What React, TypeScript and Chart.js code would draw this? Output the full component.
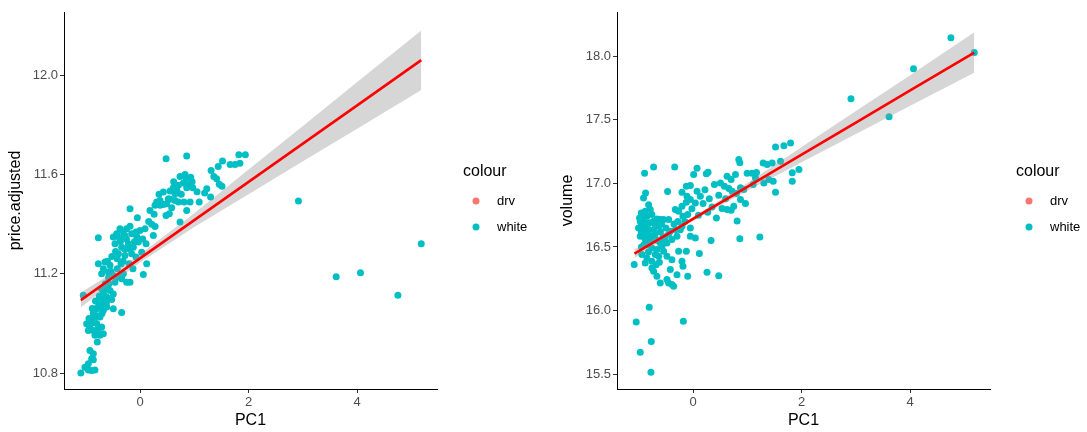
import React, { useEffect, useRef } from "react";
import { Chart, registerables } from "chart.js";

Chart.register(...registerables);

const FONT = "'Liberation Sans', Arial, sans-serif";
const TEAL = "#00BFC4";
const SALMON = "#F8766D";
const BAND = "rgba(153,153,153,0.4)";
const FIT = "#FF0000";
const POINT_R = 3.5;

const legendTitle = "colour";
const legendLabels = ["drv", "white"];
const legendColors = [SALMON, TEAL];

const xTitle = "PC1";
const xTicks = [0, 2, 4];
const xRange = [-1.4, 5.47];

// ---- left panel: PC1 vs price.adjusted ----
const priceTitle = "price.adjusted";
const priceTicks = [10.8, 11.2, 11.6, 12.0];
const priceRange = [10.736, 12.254];
const pricePoints: [number, number][] = [
  [0.48, 11.663], [0.86, 11.674], [1.82, 11.679], [1.94, 11.679], [1.52, 11.654], [1.44, 11.632],
  [1.66, 11.64], [1.75, 11.64], [1.84, 11.645], [1.31, 11.616], [1.36, 11.592], [1.41, 11.583],
  [1.51, 11.552], [1.46, 11.56], [1.23, 11.542], [1.19, 11.525], [1.3, 11.509], [1.09, 11.489],
  [0.737, 11.592], [0.848, 11.587], [0.934, 11.589], [0.909, 11.565], [0.86, 11.546], [0.971, 11.546],
  [0.799, 11.565], [0.707, 11.556], [0.614, 11.546], [0.553, 11.533], [0.645, 11.522], [0.522, 11.502],
  [0.645, 11.495], [0.43, 11.529], [0.369, 11.495], [0.307, 11.489], [0.43, 11.479], [0.49, 11.482],
  [0.584, 11.466], [0.707, 11.489], [0.811, 11.489], [0.922, 11.489], [0.86, 11.455], [0.737, 11.408],
  [0.479, 11.435], [0.54, 11.442], [0.184, 11.455], [0.215, 11.399], [0.277, 11.39], [0.246, 11.354],
  [0.319, 11.486], [0.369, 11.476], [0.276, 11.476],
  [0.092, 11.381], [0.111, 11.321], [0.123, 11.24], [0.061, 11.197], [-0.184, 11.462], [-0.049, 11.426],
  [-0.369, 11.381], [-0.246, 11.381], [-0.184, 11.391], [-0.307, 11.368], [-0.43, 11.361], [-0.492, 11.348],
  [-0.381, 11.345], [-0.277, 11.354], [-0.154, 11.361], [-0.074, 11.368], [0.0, 11.374],
  [-0.461, 11.321], [-0.338, 11.307], [-0.215, 11.321], [-0.123, 11.307], [-0.031, 11.328],
  [-0.399, 11.281], [-0.277, 11.274], [-0.154, 11.281], [-0.074, 11.267], [0.031, 11.287],
  [-0.768, 11.345], [-0.768, 11.24], [-0.645, 11.247], [-0.553, 11.234], [-0.676, 11.22],
  [-0.707, 11.2], [-0.584, 11.207], [-0.492, 11.193], [-0.399, 11.187], [-0.307, 11.2], [-0.246, 11.166],
  [-0.184, 11.166], [-0.338, 11.18], [-0.461, 11.166], [-1.045, 11.113],
  [-0.676, 11.126], [-0.614, 11.106], [-0.553, 11.133], [-0.492, 11.119], [-0.645, 11.093], [-0.522, 11.096],
  [-0.338, 11.044], [-0.492, 11.059],
  [-0.737, 11.079], [-0.799, 11.059], [-0.676, 11.052], [-0.86, 11.039], [-0.614, 11.066], [-0.891, 11.012],
  [-0.737, 11.026], [-0.83, 11.026], [-0.952, 10.972], [-0.86, 10.972], [-0.768, 10.979], [-0.707, 10.986],
  [-0.983, 10.999], [-0.83, 10.952], [-0.737, 10.952], [-0.676, 10.958], [-0.787, 10.925],
  [-0.922, 10.891], [-0.86, 10.878], [-0.891, 10.858], [-0.952, 10.838], [-0.86, 10.854],
  [-1.014, 10.824], [-0.952, 10.813], [-0.891, 10.81], [-0.83, 10.813], [-1.09, 10.8],
  [-0.9, 11.0], [-0.85, 11.045], [-0.78, 11.065], [-0.72, 11.1], [-0.66, 11.11], [-0.6, 11.14],
  [-0.57, 11.16], [-0.8, 11.0], [-0.94, 11.02], [-0.7, 11.04], [-0.62, 11.08], [-0.75, 11.11],
  [-0.42, 11.22], [-0.35, 11.24], [-0.28, 11.3], [-0.2, 11.24], [-0.1, 11.33], [-0.45, 11.29],
  [-0.52, 11.27], [-0.6, 11.25],
  [-0.88, 11.06], [-0.82, 11.09], [-0.77, 11.03], [-0.69, 11.075], [-0.93, 10.985], [-0.81, 10.97],
  [-0.71, 11.14], [-0.64, 11.16], [-0.58, 11.185], [-0.54, 11.21], [-0.42, 11.26], [-0.36, 11.33],
  [-0.25, 11.34], [-0.19, 11.3], [-0.06, 11.35], [0.05, 11.34], [-0.31, 11.25], [-0.13, 11.22],
  [0.35, 11.52], [0.56, 11.5], [0.68, 11.535], [0.76, 11.52], [0.96, 11.57], [1.05, 11.53],
  [0.62, 11.57], [0.83, 11.6], [0.26, 11.44], [0.16, 11.41],
  [2.918, 11.493], [3.613, 11.188], [4.061, 11.204], [4.75, 11.113], [5.18, 11.321],
];
const priceFitX = [-1.09, -0.5, 0, 1, 2, 3, 4, 5.18];
const priceFitY = [11.094, 11.185, 11.262, 11.416, 11.57, 11.724, 11.878, 12.06];
const priceBandLo = [11.064, 11.165, 11.245, 11.388, 11.52, 11.653, 11.784, 11.94];
const priceBandHi = [11.124, 11.205, 11.279, 11.444, 11.62, 11.795, 11.972, 12.18];

// ---- right panel: PC1 vs volume ----
const volumeTitle = "volume";
const volumeTicks = [15.5, 16.0, 16.5, 17.0, 17.5, 18.0];
const volumeRange = [15.382, 18.349];
const volumePoints: [number, number][] = [
  [-1.083, 16.361], [-1.046, 15.909], [-0.972, 15.671], [-0.806, 16.025], [-0.769, 15.755], [-0.775, 15.513],
  [-0.178, 15.915], [-0.892, 17.08], [-0.726, 17.13], [-0.338, 17.13], [0.074, 17.119], [0.246, 17.077],
  [0.277, 17.088], [0.012, 17.07], [-0.468, 16.936], [-0.911, 16.886], [-0.874, 16.925], [-0.818, 16.833],
  [-0.954, 16.768], [-0.88, 16.781], [-0.788, 16.794], [-0.985, 16.728], [-0.849, 16.741], [-0.757, 16.755],
  [-0.942, 16.689], [-0.849, 16.689], [-0.726, 16.702], [-1.003, 16.65], [-0.911, 16.65], [-0.818, 16.636],
  [-0.726, 16.636], [-0.634, 16.663], [-0.603, 16.715], [-0.542, 16.715], [-0.449, 16.715],
  [-0.972, 16.584], [-0.88, 16.558], [-0.788, 16.584], [-0.695, 16.558], [-0.603, 16.531], [-0.849, 16.518],
  [-0.757, 16.492], [-0.665, 16.479], [-0.572, 16.505], [-0.48, 16.531], [-0.388, 16.558], [-0.295, 16.584],
  [-0.326, 16.636], [-0.418, 16.623], [-0.234, 16.636], [-0.203, 16.663],
  [-0.942, 16.44], [-0.849, 16.413], [-0.88, 16.374], [-0.757, 16.387], [-0.695, 16.44], [-0.634, 16.426],
  [-0.542, 16.466], [-0.48, 16.426], [-0.757, 16.335], [-0.726, 16.308], [-0.665, 16.269], [-0.603, 16.217],
  [-0.48, 16.243], [-0.449, 16.217], [-0.388, 16.204], [-0.357, 16.191], [-0.418, 16.322], [-0.295, 16.282],
  [-0.388, 16.4], [-0.203, 16.387], [-0.123, 16.466], [-0.265, 16.466], [-0.098, 16.269], [-0.185, 16.348],
  [0.117, 16.448], [-0.049, 16.584], [0.043, 16.571], [-0.049, 16.65],
  [-0.098, 16.755], [-0.185, 16.741], [-0.265, 16.781], [-0.326, 16.794], [-0.203, 16.82], [-0.123, 16.852],
  [0.043, 16.846], [-0.049, 16.873], [-0.203, 16.931], [-0.123, 16.978], [-0.049, 16.983], [-0.111, 16.899],
  [0.074, 16.938], [0.135, 16.899], [0.185, 16.841],
  [0.258, 16.3], [0.332, 16.55], [0.474, 16.274], [0.271, 16.773], [0.351, 16.815], [0.431, 16.728],
  [0.394, 16.991], [0.474, 16.907], [0.505, 17.004], [0.578, 16.978],
  [0.628, 17.057], [0.702, 17.031], [0.782, 17.07], [0.843, 17.188], [0.862, 17.162],
  [0.535, 16.802], [0.628, 16.794], [0.702, 16.789], [0.751, 16.82], [0.812, 16.705], [0.862, 16.565],
  [0.874, 16.965], [0.935, 16.952], [0.72, 16.938], [0.874, 16.873], [0.966, 16.841],
  [0.997, 17.08], [1.089, 17.08], [1.169, 17.085], [1.108, 16.991], [1.151, 17.043], [1.231, 16.579],
  [1.292, 17.161], [1.366, 17.148], [1.458, 17.161], [1.305, 17.004], [1.397, 17.031], [1.477, 17.017],
  [1.52, 16.931], [1.612, 17.174], [1.674, 17.297], [1.797, 17.318], [1.828, 17.083], [1.951, 17.109],
  [1.828, 17.017], [1.52, 17.286],
  [-0.92, 16.72], [-0.86, 16.6], [-0.8, 16.69], [-0.7, 16.6], [-0.65, 16.55], [-0.9, 16.52],
  [-0.6, 16.62], [-0.55, 16.58], [-0.5, 16.65], [-0.95, 16.62], [-0.82, 16.46], [-0.62, 16.38], [-0.7, 16.68],
  [-0.97, 16.7], [-0.9, 16.6], [-0.84, 16.65], [-0.78, 16.55], [-0.66, 16.72], [-0.58, 16.68],
  [-0.52, 16.56], [-0.45, 16.6], [-0.35, 16.68], [-0.28, 16.7], [-0.15, 16.7], [-0.02, 16.8],
  [0.1, 16.75], [0.22, 16.95], [0.3, 16.88], [0.6, 16.88], [0.66, 16.96], [0.8, 16.92],
  [-0.95, 16.5], [-0.68, 16.36],
  [2.909, 17.666], [3.611, 17.524], [4.061, 17.902], [4.75, 18.147], [5.18, 18.031],
];
const volumeFitX = [-1.078, -0.5, 0, 1, 2, 3, 4, 5.18];
const volumeFitY = [16.447, 16.593, 16.72, 16.973, 17.226, 17.479, 17.732, 18.03];
const volumeBandLo = [16.412, 16.573, 16.705, 16.943, 17.166, 17.389, 17.612, 17.87];
const volumeBandHi = [16.482, 16.613, 16.735, 17.003, 17.286, 17.569, 17.852, 18.19];

type PanelProps = {
  width: number;
  yAxisWidth: number;
  rightPad: number;
  yTitlePad: number;
  yTitle: string;
  yTicks: number[];
  yRange: number[];
  points: [number, number][];
  fitX: number[];
  fitY: number[];
  bandLo: number[];
  bandHi: number[];
};

const legendPlugin = {
  id: "ggLegend",
  afterDraw(chart: any) {
    const { ctx, chartArea } = chart;
    const x0 = chartArea.right + 26;
    const cy = (chartArea.top + chartArea.bottom) / 2;
    ctx.save();
    ctx.textBaseline = "middle";
    ctx.textAlign = "left";
    ctx.fillStyle = "#000000";
    ctx.font = `16px ${FONT}`;
    ctx.fillText(legendTitle, x0, cy - 28.5);
    ctx.font = `13px ${FONT}`;
    legendLabels.forEach((lab, i) => {
      const y = cy + 0.5 + i * 26;
      ctx.beginPath();
      ctx.fillStyle = legendColors[i];
      ctx.arc(x0 + 13, y, POINT_R, 0, Math.PI * 2);
      ctx.fill();
      ctx.fillStyle = "#000000";
      ctx.fillText(lab, x0 + 34, y);
    });
    ctx.restore();
  },
};

function Panel(p: PanelProps) {
  const ref = useRef<HTMLCanvasElement | null>(null);
  useEffect(() => {
    if (!ref.current) return;
    const toXY = (xs: number[], ys: number[]) => xs.map((x, i) => ({ x, y: ys[i] }));
    const chart = new Chart(ref.current, {
      type: "scatter",
      data: {
        datasets: [
          { label: legendLabels[0], data: [], backgroundColor: legendColors[0], pointRadius: POINT_R, borderWidth: 0, order: 5 } as any,
          {
            label: legendLabels[1],
            data: p.points.map(([x, y]) => ({ x, y })),
            backgroundColor: legendColors[1],
            borderColor: "rgba(0,0,0,0)",
            borderWidth: 0,
            pointRadius: POINT_R,
            order: 4,
          },
          {
            type: "line",
            label: "lo",
            data: toXY(p.fitX, p.bandLo),
            borderColor: "rgba(0,0,0,0)",
            borderWidth: 0,
            pointRadius: 0,
            fill: false,
            order: 3,
          } as any,
          {
            type: "line",
            label: "hi",
            data: toXY(p.fitX, p.bandHi),
            borderColor: "rgba(0,0,0,0)",
            borderWidth: 0,
            backgroundColor: BAND,
            pointRadius: 0,
            fill: "-1",
            order: 2,
          } as any,
          {
            type: "line",
            label: "fit",
            data: toXY(p.fitX, p.fitY),
            borderColor: FIT,
            borderWidth: 2.6,
            pointRadius: 0,
            fill: false,
            order: 1,
          } as any,
        ],
      },
      options: {
        responsive: false,
        animation: false,
        layout: { padding: { top: 12, right: p.rightPad, bottom: 0, left: 0 } },
        plugins: { legend: { display: false }, tooltip: { enabled: false } },
        scales: {
          x: {
            type: "linear",
            min: xRange[0],
            max: xRange[1],
            afterBuildTicks: (s: any) => {
              s.ticks = xTicks.map((v) => ({ value: v }));
            },
            afterFit: (s: any) => {
              s.height = 43;
            },
            grid: { display: true, drawOnChartArea: false, drawTicks: true, tickLength: 4, color: "#333333" },
            border: { display: true, color: "#000000", width: 1 },
            ticks: { autoSkip: false, maxRotation: 0, color: "#4D4D4D", font: { size: 13, family: FONT }, padding: 2, callback: (v: any) => String(v) },
            title: { display: true, text: xTitle, color: "#000000", font: { size: 16, family: FONT }, padding: { top: 0, bottom: 2 } },
          },
          y: {
            type: "linear",
            min: p.yRange[0],
            max: p.yRange[1],
            afterBuildTicks: (s: any) => {
              s.ticks = p.yTicks.map((v) => ({ value: v }));
            },
            afterFit: (s: any) => {
              s.width = p.yAxisWidth;
            },
            grid: { display: true, drawOnChartArea: false, drawTicks: true, tickLength: 4, color: "#333333" },
            border: { display: true, color: "#000000", width: 1 },
            ticks: { autoSkip: false, color: "#4D4D4D", font: { size: 13, family: FONT }, padding: 2, callback: (v: any) => Number(v).toFixed(1) },
            title: { display: true, text: p.yTitle, color: "#000000", font: { size: 16, family: FONT }, padding: { top: p.yTitlePad, bottom: 0 } },
          },
        },
      },
      plugins: [legendPlugin],
    } as any);
    return () => chart.destroy();
  }, []);
  return <canvas ref={ref} width={p.width} height={432} style={{ display: "block", width: p.width, height: 432 }} />;
}

export default function App() {
  return (
    <div style={{ position: "absolute", left: 0, top: 0, width: 1087, height: 432, background: "#ffffff", display: "flex" }}>
      <Panel
        width={543}
        yAxisWidth={64}
        rightPad={106}
        yTitlePad={5.5}
        yTitle={priceTitle}
        yTicks={priceTicks}
        yRange={priceRange}
        points={pricePoints}
        fitX={priceFitX}
        fitY={priceFitY}
        bandLo={priceBandLo}
        bandHi={priceBandHi}
      />
      <Panel
        width={544}
        yAxisWidth={74}
        rightPad={97}
        yTitlePad={15.4}
        yTitle={volumeTitle}
        yTicks={volumeTicks}
        yRange={volumeRange}
        points={volumePoints}
        fitX={volumeFitX}
        fitY={volumeFitY}
        bandLo={volumeBandLo}
        bandHi={volumeBandHi}
      />
    </div>
  );
}
